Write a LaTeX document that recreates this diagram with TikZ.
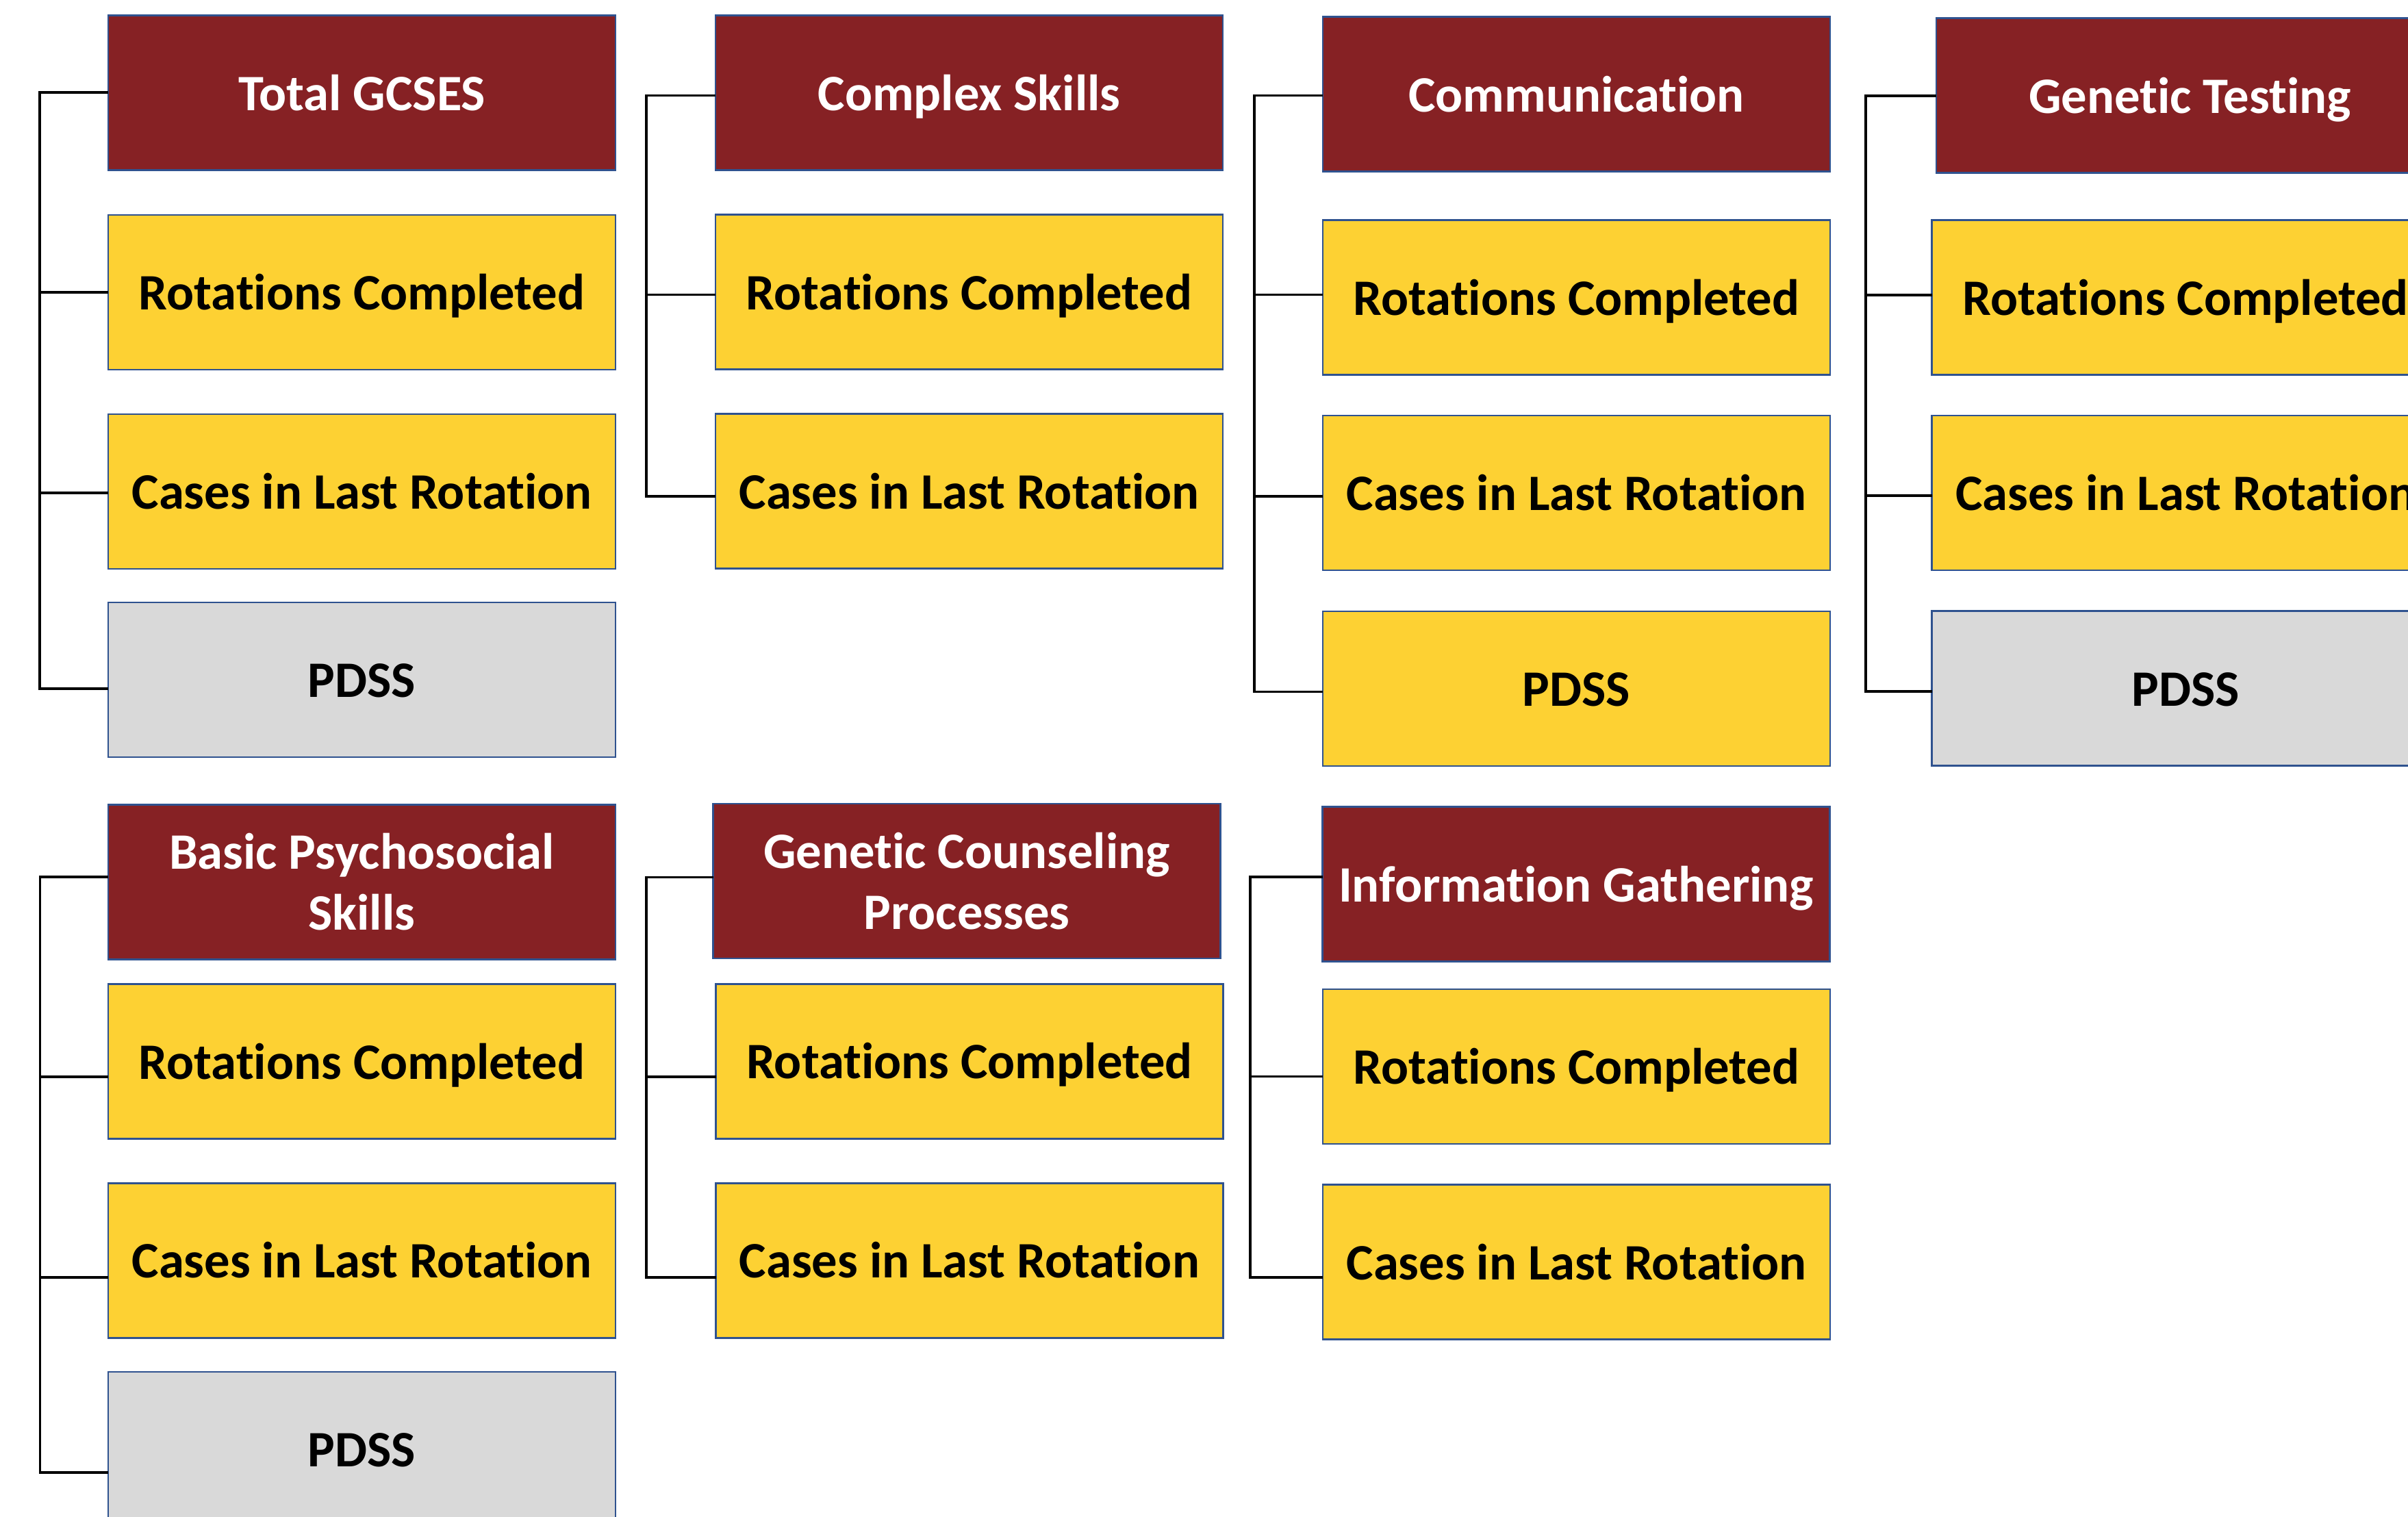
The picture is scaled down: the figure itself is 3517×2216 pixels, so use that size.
\documentclass[tikz,border=0pt]{standalone}
\usepackage{fontspec}
\setmainfont{Carlito}[Ligatures=NoCommon]
\definecolor{maroon}{HTML}{862124}
\definecolor{gold}{HTML}{FDD133}
\definecolor{greybox}{HTML}{D9D9D9}
\definecolor{bord}{HTML}{2F528F}
\begin{document}
\begin{tikzpicture}[x=1pt,y=-1pt,
  box/.style={draw=bord,line width=2.7pt,minimum width=741pt,minimum height=226pt,inner sep=0pt,
    font=\fontsize{74.6}{89}\selectfont\bfseries},
  one/.style={text height=51pt,text depth=0pt},
  hd/.style={box,fill=maroon,text=white},
  yl/.style={box,fill=gold,text=black},
  gr/.style={box,fill=greybox,text=black},
  conn/.style={draw=black,line width=3.4pt,line cap=rect}]
\useasboundingbox (0,0) rectangle (3517,2216);
\clip (0,0) rectangle (3517,2216);
\fill[white] (0,0) rectangle (3517,2216);

% column A (top)
\node[hd,one] (hA) at (528.5,135.5) {Total GCSES};
\node[yl,one] (rA) at (528.5,427) {Rotations Completed};
\node[yl,one] (cA) at (528.5,718) {Cases in Last Rotation};
\node[gr,one] (pA) at (528.5,993) {PDSS};
% column B (top)
\node[hd,one] (hB) at (1415.5,135.5) {Complex Skills};
\node[yl,one] (rB) at (1415.5,426.5) {Rotations Completed};
\node[yl,one] (cB) at (1415.5,717.6) {Cases in Last Rotation};
% column C (top)
\node[hd,one] (hC) at (2302.5,137.5) {Communication};
\node[yl,one] (rC) at (2302.5,434.8) {Rotations Completed};
\node[yl,one] (cC) at (2302.5,720) {Cases in Last Rotation};
\node[yl,one] (pC) at (2302.5,1006) {PDSS};
% column D (top)
\node[hd,one] (hD) at (3198.5,139.5) {Genetic Testing};
\node[yl,one] (rD) at (3192,434.5) {Rotations Completed};
\node[yl,one] (cD) at (3192,720) {Cases in Last Rotation};
\node[gr,one] (pD) at (3192,1005.5) {PDSS};
% column E (bottom)
\node[hd,align=center] (hE) at (528.4,1288.3) {Basic Psychosocial\\Skills};
\node[yl,one] (rE) at (528.5,1550.5) {Rotations Completed};
\node[yl,one] (cE) at (528.5,1841.4) {Cases in Last Rotation};
\node[gr,one] (pE) at (528.5,2117) {PDSS};
% column F (bottom)
\node[hd,align=center] (hF) at (1412,1287) {Genetic Counseling\\Processes};
\node[yl,one] (rF) at (1415.8,1550.3) {Rotations Completed};
\node[yl,one] (cF) at (1415.8,1841.4) {Cases in Last Rotation};
% column G (bottom)
\node[hd,one] (hG) at (2302,1291.5) {Information Gathering};
\node[yl,one] (rG) at (2302.5,1558) {Rotations Completed};
\node[yl,one] (cG) at (2302.5,1843.5) {Cases in Last Rotation};

% spines
\coordinate (tA) at (58,135);
\coordinate (tB) at (944,139.5);
\coordinate (tC) at (1832,139.5);
\coordinate (tD) at (2725,140);
\coordinate (tE) at (58.6,1281);
\coordinate (tF) at (944,1281.4);
\coordinate (tG) at (1826,1281);

\draw[conn] (tA) -- (tA -| hA.west);
\draw[conn] (rA.west) -| (tA);
\draw[conn] ([yshift=-2pt]cA.west) -| (tA);
\draw[conn] ([yshift=-13pt]pA.west) -| (tA);

\draw[conn] (tB) -- (tB -| hB.west);
\draw[conn] ([yshift=-4pt]rB.west) -| (tB);
\draw[conn] ([yshift=-7.4pt]cB.west) -| (tB);

\draw[conn] (tC) -- (tC -| hC.west);
\draw[conn] ([yshift=4.3pt]rC.west) -| (tC);
\draw[conn] ([yshift=-5pt]cC.west) -| (tC);
\draw[conn] ([yshift=-4.6pt]pC.west) -| (tC);

\draw[conn] (tD) -- (tD -| hD.west);
\draw[conn] ([yshift=3.5pt]rD.west) -| (tD);
\draw[conn] ([yshift=-4pt]cD.west) -| (tD);
\draw[conn] ([yshift=-4.5pt]pD.west) -| (tD);

\draw[conn] (tE) -- (tE -| hE.west);
\draw[conn] ([yshift=-22.5pt]rE.west) -| (tE);
\draw[conn] ([yshift=-24.6pt]cE.west) -| (tE);
\draw[conn] ([yshift=-34pt]pE.west) -| (tE);

\draw[conn] (tF) -- (tF -| hF.west);
\draw[conn] ([yshift=-22.7pt]rF.west) -| (tF);
\draw[conn] ([yshift=-24.4pt]cF.west) -| (tF);

\draw[conn] (tG) -- (tG -| hG.west);
\draw[conn] ([yshift=-14.5pt]rG.west) -| (tG);
\draw[conn] ([yshift=-22.5pt]cG.west) -| (tG);
\end{tikzpicture}
\end{document}
